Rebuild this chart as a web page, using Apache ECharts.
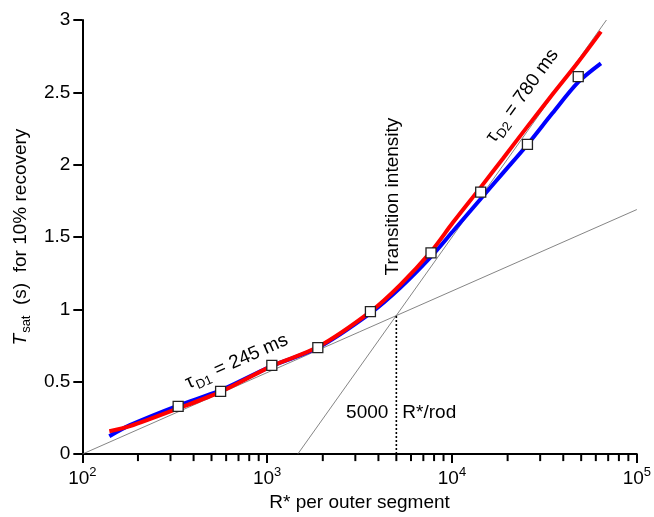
<!DOCTYPE html>
<html><head><meta charset="utf-8">
<script src="https://cdn.jsdelivr.net/npm/echarts@6/dist/echarts.min.js"></script>
<style>html,body{margin:0;padding:0;background:#fff}#c{width:654px;height:517px}</style>
</head><body><div id="c"></div>
<script>
// ---- data ----
const curveX = [140, 181, 332, 559, 1064, 1879, 3624, 5248, 7709, 10116, 14322, 18790, 25640, 34920, 48190, 63960];
const redY   = [0.158, 0.193, 0.317, 0.430, 0.610, 0.740, 0.985, 1.170, 1.400, 1.600, 1.845, 2.040, 2.265, 2.485, 2.710, 2.920];
const blueY  = [0.124, 0.200, 0.337, 0.440, 0.610, 0.735, 0.975, 1.150, 1.365, 1.540, 1.765, 1.940, 2.140, 2.355, 2.570, 2.700];
const pointX = [330, 560, 1060, 1880, 3620, 7700, 14300, 25600, 48200];
const pointY = [0.330, 0.434, 0.613, 0.736, 0.984, 1.390, 1.810, 2.140, 2.608];
const shallowLine = [[100, 0], [100000, 1.69]];
const steepLine = [[1464, 0], [68500, 3]];
const transitionLine = [[5000, 0], [5000, 0.958]];
const minorTicks = [200,300,400,500,600,700,800,900,2000,3000,4000,5000,6000,7000,8000,9000,20000,30000,40000,50000,60000,70000,80000,90000];
const xMin = 100, xMax = 100000, yMin = 0, yMax = 3, yInterval = 0.5;

const FONT = '"Liberation Sans", Arial, sans-serif';
const pairs = (xs, ys) => xs.map((x, i) => [x, ys[i]]);

const chart = echarts.init(document.getElementById('c'), null, {renderer: 'canvas'});
chart.setOption({
  animation: false,
  backgroundColor: '#fff',
  textStyle: {fontFamily: FONT},
  grid: {left: 80, right: 16, top: 20, bottom: 61, containLabel: false},
  xAxis: {
    type: 'log', logBase: 10, min: xMin, max: xMax,
    name: 'R* per outer segment', nameLocation: 'middle', nameGap: 38,
    nameTextStyle: {fontSize: 19, color: '#000', fontFamily: FONT},
    axisLine: {show: true, onZero: false, lineStyle: {color: '#000', width: 2}},
    axisTick: {show: true, length: 9, lineStyle: {color: '#000', width: 2}},
    splitLine: {show: false},
    axisLabel: {
      margin: 12, color: '#000',
      formatter: v => '{b|10}{s|' + Math.round(Math.log10(v)) + '}',
      rich: {
        b: {fontSize: 19, fontFamily: FONT, color: '#000', lineHeight: 22, verticalAlign: 'bottom'},
        s: {fontSize: 13, fontFamily: FONT, color: '#000', lineHeight: 14, verticalAlign: 'top'}
      }
    }
  },
  yAxis: {
    type: 'value', min: yMin, max: yMax, interval: yInterval,
    name: '{it|T}{sub|sat}{n|  (s)  for 10% recovery}', nameLocation: 'middle', nameGap: 44,
    nameTextStyle: {
      color: '#000',
      rich: {
        it: {fontSize: 19, fontStyle: 'italic', fontFamily: FONT, color: '#000', lineHeight: 22, verticalAlign: 'top'},
        sub: {fontSize: 13, fontFamily: FONT, color: '#000', lineHeight: 16, padding: [12, 0, 0, 1], verticalAlign: 'bottom'},
        n: {fontSize: 19, fontFamily: FONT, color: '#000', lineHeight: 22, verticalAlign: 'top'}
      }
    },
    axisLine: {show: true, lineStyle: {color: '#000', width: 2}},
    axisTick: {show: true, length: 9, lineStyle: {color: '#000', width: 2}},
    splitLine: {show: false},
    axisLabel: {margin: 12, fontSize: 19, color: '#000', fontFamily: FONT}
  },
  series: [
    {type: 'line', data: shallowLine, symbol: 'none', silent: true, z: 2,
     lineStyle: {color: '#666', width: 0.8}},
    {type: 'line', data: steepLine, symbol: 'none', silent: true, z: 2,
     lineStyle: {color: '#666', width: 0.8}},
    {type: 'line', data: transitionLine, symbol: 'none', silent: true, z: 2,
     lineStyle: {color: '#000', width: 1.6, type: [2, 2]}},
    {type: 'line', data: pairs(curveX, blueY), symbol: 'none', smooth: 0.3, silent: true, z: 3,
     lineStyle: {color: '#0000ff', width: 4}},
    {type: 'line', data: pairs(curveX, redY), symbol: 'none', smooth: 0.3, silent: true, z: 4,
     lineStyle: {color: '#ff0000', width: 4}},
    {type: 'scatter', data: pairs(pointX, pointY), symbol: 'rect', symbolSize: 10, silent: true, z: 5,
     itemStyle: {color: '#fff', borderColor: '#222', borderWidth: 1.3, opacity: 1}}
  ]
});

// ---- annotations and log minor ticks, placed through the chart's own scales ----
const px = (x, y) => chart.convertToPixel({gridIndex: 0}, [x, y]);
const richLbl = {
  t: {fontSize: 19, fontFamily: FONT, fill: '#000', lineHeight: 22, verticalAlign: 'top'},
  sub: {fontSize: 13, fontFamily: FONT, fill: '#000', lineHeight: 16, padding: [12, 1, 0, 1], verticalAlign: 'bottom'},
  n: {fontSize: 19, fontFamily: FONT, fill: '#000', lineHeight: 22, verticalAlign: 'top'}
};
const a1 = px(690, 0.63), a2 = px(24380, 2.47), a3 = px(4755, 1.78);
const a4 = px(5000, 0.285);
const tickGraphics = minorTicks.map(v => {
  const p = px(v, 0);
  return {type: 'line', z: 100, silent: true,
          shape: {x1: p[0], y1: p[1], x2: p[0], y2: p[1] + 7},
          style: {stroke: '#000', lineWidth: 2}};
});
chart.setOption({
  graphic: tickGraphics.concat([
    {type: 'text', x: a1[0], y: a1[1], rotation: 24 * Math.PI / 180, z: 100,
     style: {text: '{t|τ}{sub|D1}{n| = 245 ms}', rich: richLbl, align: 'center', verticalAlign: 'middle', fill: '#000'}},
    {type: 'text', x: a2[0], y: a2[1], rotation: 54 * Math.PI / 180, z: 100,
     style: {text: '{t|τ}{sub|D2}{n| = 780 ms}', rich: richLbl, align: 'center', verticalAlign: 'middle', fill: '#000'}},
    {type: 'text', x: a3[0], y: a3[1], rotation: Math.PI / 2, z: 100,
     style: {text: 'Transition intensity', font: '19px ' + FONT, align: 'center', verticalAlign: 'middle', fill: '#000'}},
    {type: 'text', x: a4[0] - 8, y: a4[1], z: 100,
     style: {text: '5000', font: '19px ' + FONT, align: 'right', verticalAlign: 'middle', fill: '#000'}},
    {type: 'text', x: a4[0] + 6, y: a4[1], z: 100,
     style: {text: 'R*/rod', font: '19px ' + FONT, align: 'left', verticalAlign: 'middle', fill: '#000'}}
  ])
});
</script>
</body></html>
